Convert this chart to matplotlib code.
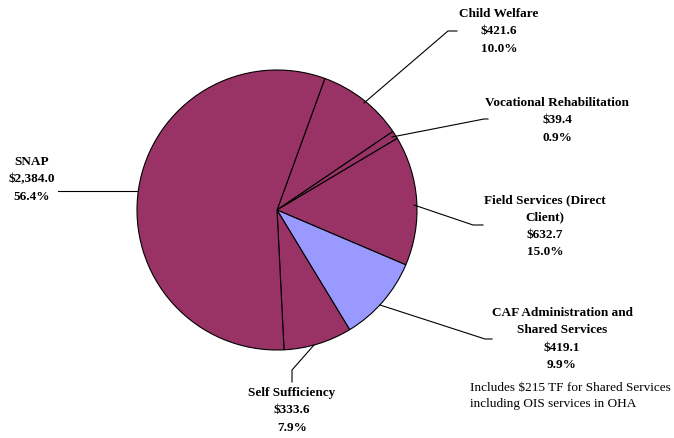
import matplotlib.pyplot as plt

labels = ['Child Welfare', 'Vocational Rehabilitation', 'Field Services (Direct\nClient)',
          'CAF Administration and\nShared Services', 'Self Sufficiency', 'SNAP']
amounts = [421.6, 39.4, 632.7, 419.1, 333.6, 2384.0]
percents = ['10.0%', '0.9%', '15.0%', '9.9%', '7.9%', '56.4%']
colors = ['#993366', '#993366', '#993366', '#9999FF', '#993366', '#993366']

H = 438
fig = plt.figure(figsize=(6.74, 4.38), dpi=100, facecolor='white')
ax = fig.add_axes([0, 0, 1, 1])

wedges, _ = ax.pie(amounts, colors=colors, startangle=70, counterclock=False,
                   center=(277, H - 210), radius=140, frame=True,
                   wedgeprops=dict(edgecolor='black', linewidth=0.8))
ax.set_xlim(0, 674)
ax.set_ylim(0, H)
ax.set_aspect('equal')
ax.axis('off')

# leader lines (pixel coords, y from top) and label anchor (center x, top y)
leaders = [
    [(364, 103), (448, 31), (457, 31)],
    [(392, 137), (484, 119), (488, 119)],
    [(414, 205), (473, 225), (483, 225)],
    [(380, 305), (485, 339), (492, 339)],
    [(314, 345), (292, 370), (292, 382)],
    [(137, 191), (58, 191)],
]
anchors = [(499, 8), (557, 97), (545, 194), (562, 307), (292, 387), (32, 156)]

font = dict(family=['Liberation Serif', 'DejaVu Serif'], fontsize=9.5,
            fontweight='bold', ha='center', va='top', linespacing=1.6)
for lab, amt, pct, pts, (x, y) in zip(labels, amounts, percents, leaders, anchors):
    xs = [p[0] for p in pts]
    ys = [H - p[1] for p in pts]
    ax.plot(xs, ys, color='black', lw=0.8)
    ax.text(x, H - y, f'{lab}\n${amt:,.1f}\n{pct}', **font)

ax.text(470, H - 382, 'Includes $215 TF for Shared Services\nincluding OIS services in OHA',
        family=['Liberation Serif', 'DejaVu Serif'], fontsize=9.5, ha='left', va='top',
        linespacing=1.45)

fig.savefig('out.png', dpi=100, facecolor='white')
